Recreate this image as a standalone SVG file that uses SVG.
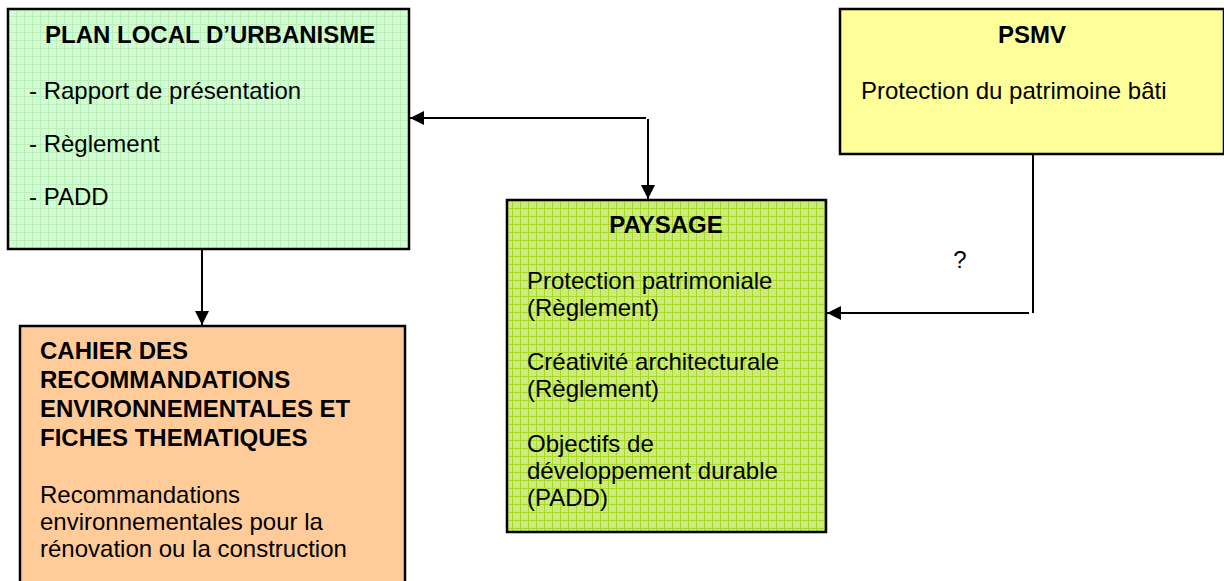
<svg xmlns="http://www.w3.org/2000/svg" width="1224" height="581" viewBox="0 0 1224 581">
<style>
text{font-family:"Liberation Sans",Arial,sans-serif;font-size:24px;fill:#000}
.b{font-weight:bold}
.box{stroke:#000;stroke-width:2.5}
.conn line,.conn polyline{stroke:#000;stroke-width:2;fill:none}
</style>
<defs>
<pattern id="gPLU" width="8" height="8" patternUnits="userSpaceOnUse">
<rect width="8" height="8" fill="#d4fcd4"/>
<path d="M0 0.5H8M0.5 0V8" stroke="#b8f0b8" stroke-width="1"/>
</pattern>
<pattern id="gPAY" width="8" height="8" patternUnits="userSpaceOnUse">
<rect width="8" height="8" fill="#cceb7a"/>
<path d="M0 0.5H8M0.5 0V8" stroke="#a8d82a" stroke-width="1"/>
</pattern>
<marker id="ah" viewBox="0 0 14 14" refX="14" refY="7" markerWidth="14" markerHeight="14" markerUnits="userSpaceOnUse" orient="auto">
<path d="M0 0L14 7L0 14Z" fill="#000"/>
</marker>
</defs>
<g class="conn" id="connectors">
<line x1="202" y1="249" x2="202" y2="325" marker-end="url(#ah)"/>
<line x1="646" y1="118" x2="410" y2="118" marker-end="url(#ah)"/>
<line x1="648" y1="119" x2="648" y2="199" marker-end="url(#ah)"/>
<line x1="1033" y1="154" x2="1033" y2="313"/>
<line x1="1029" y1="313" x2="827" y2="313" marker-end="url(#ah)"/>
<text x="960" y="268" text-anchor="middle">?</text>
</g>
<g id="plu">
<rect class="box" x="8" y="9" width="401" height="240" fill="url(#gPLU)"/>
<text class="b" x="45" y="43">PLAN LOCAL D’URBANISME</text>
<text x="29" y="99">- Rapport de présentation</text>
<text x="29" y="152">- Règlement</text>
<text x="29" y="205">- PADD</text>
</g>
<g id="psmv">
<rect class="box" x="840" y="9" width="384" height="145" fill="#ffff99"/>
<text class="b" x="1032" y="43" text-anchor="middle">PSMV</text>
<text x="861" y="99">Protection du patrimoine bâti</text>
</g>
<g id="paysage">
<rect class="box" x="507" y="200" width="319" height="332" fill="url(#gPAY)"/>
<text class="b" x="666" y="233" text-anchor="middle">PAYSAGE</text>
<text x="527" y="289">Protection patrimoniale</text>
<text x="527" y="316">(Règlement)</text>
<text x="527" y="370">Créativité architecturale</text>
<text x="527" y="397">(Règlement)</text>
<text x="527" y="452">Objectifs de</text>
<text x="527" y="479">développement durable</text>
<text x="527" y="506">(PADD)</text>
</g>
<g id="cahier">
<rect class="box" x="20" y="326" width="385" height="262" fill="#ffcc99"/>
<text class="b" x="40" y="359">CAHIER DES</text>
<text class="b" x="40" y="388">RECOMMANDATIONS</text>
<text class="b" x="40" y="417">ENVIRONNEMENTALES ET</text>
<text class="b" x="40" y="446">FICHES THEMATIQUES</text>
<text x="40" y="503">Recommandations</text>
<text x="40" y="530">environnementales pour la</text>
<text x="40" y="557">rénovation ou la construction</text>
</g>
</svg>
